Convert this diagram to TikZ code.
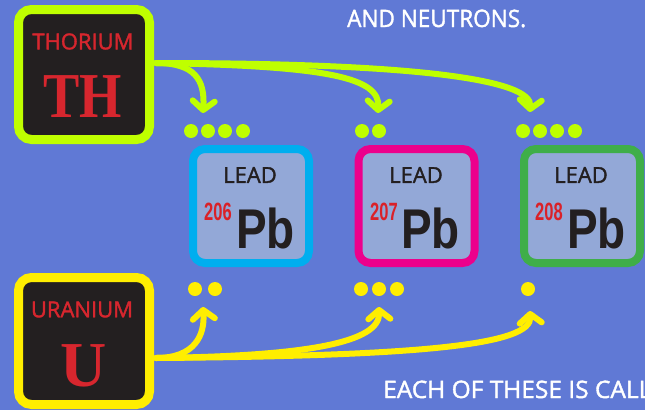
\documentclass[tikz,border=0pt]{standalone}
\usepackage{fontspec}
\usetikzlibrary{arrows.meta}
\newfontfamily\comicf[FakeBold=1.6]{Open Sans}
\newfontfamily\sansf{Liberation Sans}
\newfontfamily\seriff{Liberation Serif}
\definecolor{bgblue}{HTML}{6079D5}
\definecolor{limec}{HTML}{BFFF00}
\definecolor{uyellow}{HTML}{FFEE00}
\definecolor{darkfill}{HTML}{231F20}
\definecolor{elred}{HTML}{D7262E}
\definecolor{cyanc}{HTML}{00AEEF}
\definecolor{magc}{HTML}{EC008C}
\definecolor{greenc}{HTML}{3FAE49}
\definecolor{leadfill}{HTML}{93A8D7}
\definecolor{numred}{HTML}{DA2128}
\begin{document}
\begin{tikzpicture}[x=1pt,y=-1pt,
  elem/.style={draw, line width=9pt, rounded corners=13pt, fill=darkfill, minimum width=131pt, minimum height=130pt, inner sep=0pt},
  leadbox/.style={draw, line width=8pt, rounded corners=12pt, fill=leadfill, minimum width=116pt, minimum height=114pt, inner sep=0pt},
  conn/.style={line width=6pt, line cap=round, -{Straight Barb[length=9pt,width=22pt,round]}},
  dot/.style={circle, inner sep=0pt, minimum size=14pt},
  comic/.style={font=\comicf\fontsize{24}{24}\selectfont, text=white, inner sep=0pt, anchor=base west},
  elname/.style={font=\comicf\fontsize{22}{22}\selectfont, text=elred, inner sep=0pt},
  elsym/.style={font=\seriff\bfseries\fontsize{64}{64}\selectfont, text=elred, inner sep=0pt},
  leadname/.style={font=\comicf\fontsize{22}{22}\selectfont, text=darkfill, inner sep=0pt},
  massno/.style={font=\sansf\bfseries\fontsize{25}{25}\selectfont, text=numred, inner sep=0pt, anchor=base west},
  pbsym/.style={font=\sansf\bfseries\fontsize{56}{56}\selectfont, text=darkfill, inner sep=0pt, anchor=base west}
]
\fill[bgblue] (0,0) rectangle (645,410);
\useasboundingbox (0,0) rectangle (645,410);
\clip (0,0) rectangle (645,410);

% texts at top and bottom
\node[comic] (topt) at (347,27) {\scalebox{0.94}[1]{AND NEUTRONS.}};
\node[comic] (bott) at (383,398) {\scalebox{1.02}[1]{EACH OF THESE IS CALL}};

% thorium
\node[elem, draw=limec] (th) at (84,74.5) {};
\node[elname] (thname) at (83,41.5) {THORIUM};
\node[elsym] (thsym) at (83,96.5) {\scalebox{0.85}[1]{TH}};

% uranium
\node[elem, draw=uyellow, minimum height=127pt] (u) at (84,341) {};
\node[elname] (uname) at (82,309.5) {URANIUM};
\node[elsym] (usym) at (84,365.5) {U};

% lead boxes
\node[leadbox, draw=cyanc] (b1) at (251,206) {};
\node[leadbox, draw=magc] (b2) at (416.5,206) {};
\node[leadbox, draw=greenc] (b3) at (582,206) {};
\node[leadname] (l1) at (250,175) {LEAD};
\node[leadname] (l2) at (416,175) {LEAD};
\node[leadname] (l3) at (581,175) {LEAD};
\node[massno] (m1) at (204,220) {\scalebox{0.66}[1]{206}};
\node[massno] (m2) at (370,220) {\scalebox{0.66}[1]{207}};
\node[massno] (m3) at (535,220) {\scalebox{0.66}[1]{208}};
\node[pbsym] (p1) at (236,248) {\scalebox{0.82}[1]{Pb}};
\node[pbsym] (p2) at (401,248) {\scalebox{0.82}[1]{Pb}};
\node[pbsym] (p3) at (567,248) {\scalebox{0.82}[1]{Pb}};

% top dots (lime)
\foreach \x/\n in {191/a,208/b,225/c,243/d} \node[dot, fill=limec] (td1\n) at (\x,131) {};
\foreach \x/\n in {362/a,379/b} \node[dot, fill=limec] (td2\n) at (\x,131) {};
\foreach \x/\n in {523/a,540/b,557/c,575/d} \node[dot, fill=limec] (td3\n) at (\x,131) {};

% bottom dots (yellow)
\foreach \x/\n in {195/a,215/b} \node[dot, fill=uyellow] (bd1\n) at (\x,289) {};
\foreach \x/\n in {361/a,379/b,397/c} \node[dot, fill=uyellow] (bd2\n) at (\x,289) {};
\node[dot, fill=uyellow] (bd3a) at (528,289) {};

% arrows from thorium
\coordinate (ts) at (156,63);
\coordinate (te1) at (203,113);
\coordinate (te2) at (378,113);
\coordinate (te3) at (530,112);
\draw[conn, limec] (ts) .. controls (330,66) and (380,78) .. (te2);
\draw[conn, limec] (ts) .. controls (420,63) and (532,80) .. (te3);
\draw[conn, limec] (ts) .. controls (195,63) and (205,80) .. (te1);

% arrows from uranium
\coordinate (us) at (156,358);
\coordinate (ue1) at (203,307);
\coordinate (ue2) at (379,307);
\coordinate (ue3) at (530,311);
\draw[conn, uyellow] (us) .. controls (310,356) and (380,342) .. (ue2);
\draw[conn, uyellow] (us) .. controls (420,356) and (532,345) .. (ue3);
\draw[conn, uyellow] (us) .. controls (195,358) and (205,335) .. (ue1);
\end{tikzpicture}
\end{document}
